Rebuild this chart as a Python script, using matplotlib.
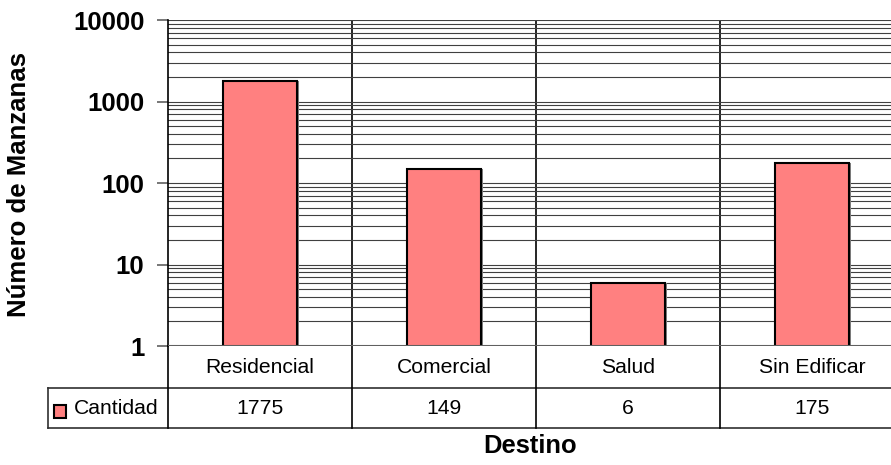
import matplotlib
matplotlib.use("Agg")
import matplotlib.pyplot as plt
import matplotlib.ticker
import matplotlib.transforms as mtrans
from matplotlib.patches import Rectangle
from matplotlib.lines import Line2D
import numpy as np

categories = ["Residencial", "Comercial", "Salud", "Sin Edificar"]
values = [1775, 149, 6, 175]
series_name = "Cantidad"
ytick_vals = [1, 10, 100, 1000, 10000]
ytick_labels = ["1", "10", "100", "1000", "10000"]

plt.rcParams['font.family'] = ['Liberation Sans', 'DejaVu Sans']

W, H = 891, 465
fig = plt.figure(figsize=(W / 100, H / 100), dpi=100)

left_px, right_px, top_px, bot_px = 168, 168 + 4 * 184, 20, 346
ax = fig.add_axes([left_px / W, 1 - bot_px / H, (right_px - left_px) / W, (bot_px - top_px) / H])
ax.set_yscale('log')
ax.set_ylim(1, 10000)
ax.set_xlim(-0.5, 3.5)

bar_color = '#FF8080'
x = np.arange(len(categories))
# shadow
ax.bar(x + 0.012, values, width=0.4, color='#808080', zorder=2)
ax.bar(x, values, width=0.4, color=bar_color, edgecolor='black', linewidth=1.5, zorder=3)

# gridlines
ax.yaxis.grid(True, which='both', color='#404040', linewidth=0.8, zorder=1)
for b in [0.5, 1.5, 2.5]:
    ax.axvline(b, color='black', linewidth=1.2, zorder=1)

ax.set_yticks(ytick_vals)
ax.set_yticklabels(ytick_labels, fontsize=18.5, fontweight='bold')
ax.yaxis.set_minor_formatter(matplotlib.ticker.NullFormatter())
ax.tick_params(axis='y', which='major', length=8, width=1.2, color='#606060', pad=9)
ax.tick_params(axis='y', which='minor', length=0)
ax.set_xticks([])
for s in ['top', 'right', 'bottom']:
    ax.spines[s].set_visible(False)
ax.spines['left'].set_color('black')
ax.spines['left'].set_linewidth(1.2)
ax.axhline(1, color='#606060', linewidth=1.5, zorder=4)

# data table
ylab_bot = -(388 - 346) / 326
yval_bot = -(428 - 346) / 326
leg_left = -0.5 - (168 - 48) / 184
bt = mtrans.blended_transform_factory(ax.transData, ax.transAxes)
lc = '#303030'
def hline(x0, x1, y, lw=1.2, c=lc):
    ax.add_line(Line2D([x0, x1], [y, y], transform=bt, color=c, linewidth=lw, clip_on=False))
def vline(xv, y0, y1, lw=1.2, c='black'):
    ax.add_line(Line2D([xv, xv], [y0, y1], transform=bt, color=c, linewidth=lw, clip_on=False))

hline(leg_left, 3.5, ylab_bot)
hline(leg_left, 3.5, yval_bot)
vline(leg_left, ylab_bot, yval_bot, c=lc)
for b in [-0.5, 0.5, 1.5, 2.5]:
    vline(b, 0, yval_bot)

for i, (c, v) in enumerate(zip(categories, values)):
    ax.text(i, ylab_bot / 2, c, transform=bt, ha='center', va='center', fontsize=15.2)
    ax.text(i, (ylab_bot + yval_bot) / 2, str(v), transform=bt, ha='center', va='center', fontsize=15.2)

# legend key in table
ymid = (ylab_bot + yval_bot) / 2
fig.patches.append(Rectangle((54 / W, 1 - 418 / H), 12 / W, 13 / H, transform=fig.transFigure,
                             facecolor=bar_color, edgecolor='black', linewidth=1.5))
fig.text(74 / W, 1 - 409 / H, series_name, ha='left', va='center', fontsize=15.2)

fig.text(530 / W, 1 - 446 / H, "Destino", ha='center', va='center', fontsize=18.4, fontweight='bold')
fig.text(19 / W, 1 - 184 / H, "Número de Manzanas", ha='center', va='center', rotation=90,
         fontsize=18.5, fontweight='bold')

fig.savefig("out.png", dpi=100)
